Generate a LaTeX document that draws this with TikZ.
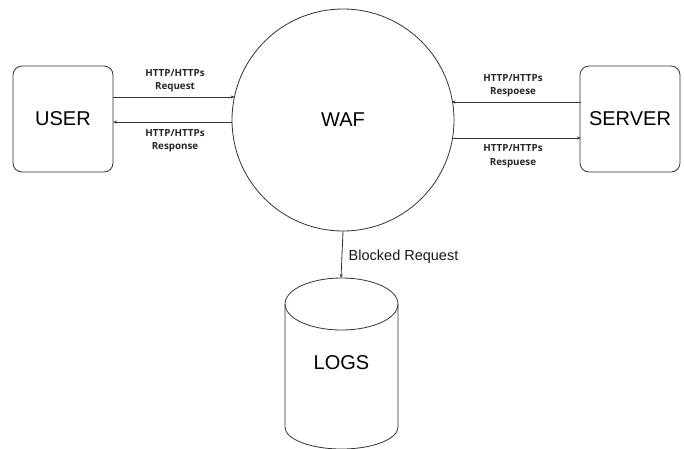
\documentclass[tikz,border=0pt]{standalone}
\usepackage{fontspec}
\setmainfont{Liberation Sans}
\newfontfamily\lblfont{Open Sans}
\usetikzlibrary{arrows.meta}
\begin{document}
\begin{tikzpicture}[x=1pt,y=-1pt,
  line width=0.8pt,
  boxnode/.style={draw=black!80, rounded corners=9pt, minimum width=100pt, minimum height=106pt, font=\fontsize{20}{22}\selectfont, inner sep=0pt},
  lbl/.style={font=\lblfont\bfseries\fontsize{9.8}{13.5}\selectfont, align=center, text=black!85},
  arr/.style={-{Stealth[length=4pt,width=3pt]}, draw=black!80}]
\useasboundingbox (0,0) rectangle (684,448);
\node[boxnode] (user) at (63,119) {USER};
\node[boxnode] (server) at (630,119) {SERVER};
\node[circle, draw=black!80, minimum size=222pt, inner sep=0pt, font=\fontsize{20}{22}\selectfont] (waf) at (343,120) {WAF};

\coordinate (u1) at (113,97);
\coordinate (w1) at (234.6,97);
\coordinate (w2) at (232,122);
\coordinate (u2) at (113,122);
\coordinate (s1) at (581,102);
\coordinate (w3) at (451.6,102);
\coordinate (w4) at (452,138);
\coordinate (s2) at (581,138);
\draw[arr] (u1) -- (w1);
\draw[arr] (w2) -- (u2);
\draw[arr] (s1) -- (w3);
\draw[arr] (w4) -- (s2);
\node[lbl] (l1) at (175,80.5) {HTTP/HTTPs\\Request};
\node[lbl] (l2) at (175,140.5) {HTTP/HTTPs\\Response};
\node[lbl] (l3) at (513,85.5) {HTTP/HTTPs\\Respoese};
\node[lbl] (l4) at (513,156) {HTTP/HTTPs\\Respuese};

% cylinder
\draw[draw=black!80, fill=white] (285,304) -- (285,427) arc[start angle=180, end angle=360, x radius=56.5pt, y radius=22pt] -- (398,304);
\draw[draw=black!80] (341.5,304) ellipse[x radius=56.5pt, y radius=26pt];
\coordinate (logtop) at (341,278);
\node[font=\fontsize{20}{22}\selectfont] (logs) at (341.5,363) {LOGS};
\draw[arr] (waf.south) -- (logtop);
\node[anchor=west, font=\fontsize{14.5}{16}\selectfont, text=black!90] (blk) at (345,257) {Blocked Request};
\end{tikzpicture}
\end{document}
